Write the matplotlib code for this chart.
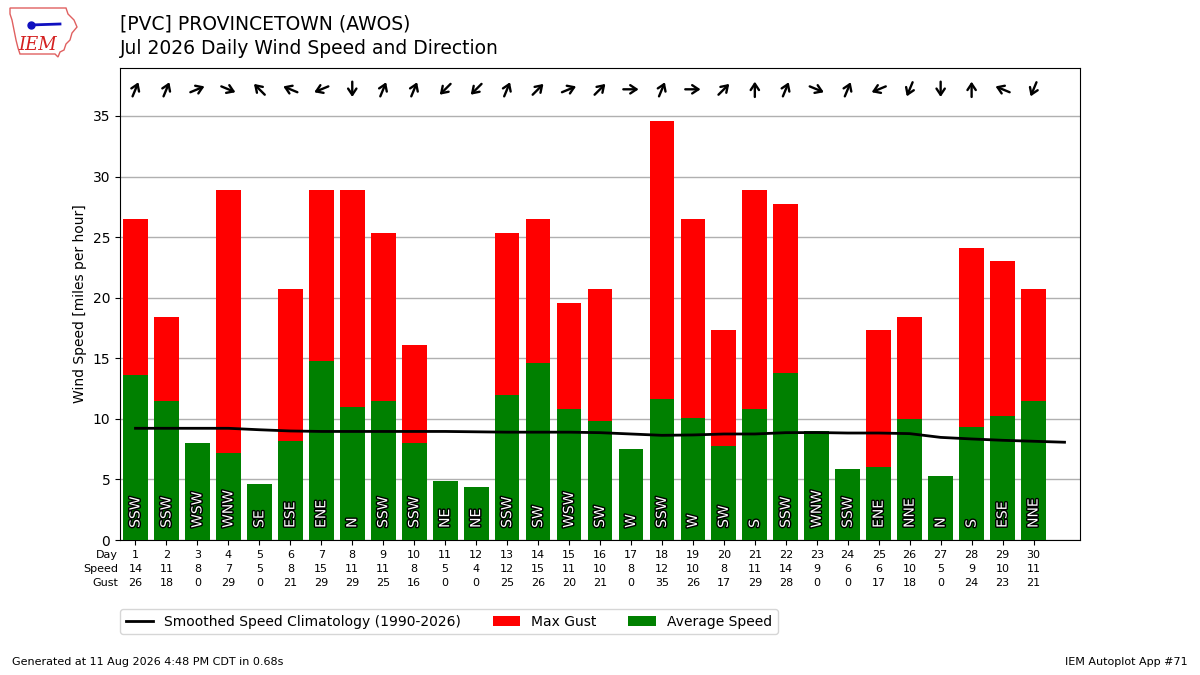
import numpy as np
import matplotlib
matplotlib.use("Agg")
import matplotlib.pyplot as plt
import matplotlib.patheffects as pe
from matplotlib.patches import Polygon
from matplotlib.transforms import offset_copy, blended_transform_factory

# daily values
days = list(range(1, 31))
avg_speed = [13.6, 11.5, 8.0, 7.2, 4.6, 8.2, 14.8, 11.0, 11.5, 8.0,
             4.9, 4.4, 12.0, 14.6, 10.8, 9.8, 7.5, 11.6, 10.1, 7.8,
             10.8, 13.8, 9.0, 5.9, 6.0, 10.0, 5.3, 9.3, 10.2, 11.5]
max_gust = [26.5, 18.4, 0, 28.9, 0, 20.7, 28.9, 28.9, 25.3, 16.1,
            0, 0, 25.3, 26.5, 19.6, 20.7, 0, 34.6, 26.5, 17.3,
            28.9, 27.7, 0, 0, 17.3, 18.4, 0, 24.1, 23.0, 20.7]
speed_lbl = [14, 11, 8, 7, 5, 8, 15, 11, 11, 8, 5, 4, 12, 15, 11,
             10, 8, 12, 10, 8, 11, 14, 9, 6, 6, 10, 5, 9, 10, 11]
gust_lbl = [26, 18, 0, 29, 0, 21, 29, 29, 25, 16, 0, 0, 25, 26, 20,
            21, 0, 35, 26, 17, 29, 28, 0, 0, 17, 18, 0, 24, 23, 21]
directions = ["SSW", "SSW", "WSW", "WNW", "SE", "ESE", "ENE", "N", "SSW", "SSW",
              "NE", "NE", "SSW", "SW", "WSW", "SW", "W", "SSW", "W", "SW",
              "S", "SSW", "WNW", "SSW", "ENE", "NNE", "N", "S", "ESE", "NNE"]

clim_days = list(range(1, 32))
clim_speed = [9.22, 9.22, 9.22, 9.22, 9.1, 9.0, 8.96, 8.96, 8.96, 8.96,
              8.96, 8.93, 8.9, 8.9, 8.9, 8.86, 8.75, 8.64, 8.67, 8.75,
              8.75, 8.86, 8.87, 8.83, 8.83, 8.78, 8.47, 8.34, 8.23, 8.15, 8.07]

compass = ["N", "NNE", "NE", "ENE", "E", "ESE", "SE", "SSE",
           "S", "SSW", "SW", "WSW", "W", "WNW", "NW", "NNW"]

fig = plt.figure(figsize=(12, 6.75), dpi=100)
ax = fig.add_axes([0.1, 0.2, 0.8, 0.7])

ax.bar(days, max_gust, width=0.8, color="r", label="Max Gust", zorder=2)
ax.bar(days, avg_speed, width=0.8, color="g", label="Average Speed", zorder=3)
ax.plot(clim_days, clim_speed, color="k", lw=2, zorder=4,
        label="Smoothed Speed Climatology (1990-2026)")

# direction names inside the bars
for d, name in zip(days, directions):
    ax.text(d, 1.0, name, rotation=90, ha="center", va="bottom", color="white",
            fontsize=10, zorder=5,
            path_effects=[pe.withStroke(linewidth=2, foreground="k")])

# arrows showing where the wind blows to
arrow_y = 37.2
for d, name in zip(days, directions):
    bearing = np.deg2rad(compass.index(name) * 22.5 + 180)
    dx, dy = np.sin(bearing) * 5.5, np.cos(bearing) * 5.5
    head = offset_copy(ax.transData, fig=fig, x=dx, y=dy, units="points")
    tail = offset_copy(ax.transData, fig=fig, x=-dx, y=-dy, units="points")
    ax.annotate("", xy=(d, arrow_y), xycoords=head,
                xytext=(d, arrow_y), textcoords=tail,
                arrowprops=dict(arrowstyle="->,head_length=0.45,head_width=0.3",
                                color="k", lw=1.7, shrinkA=0, shrinkB=0,
                                mutation_scale=10))

ax.set_xlim(0.5, 31.5)
ax.set_ylim(0, 39)
ax.set_yticks(range(0, 36, 5))
ax.set_xticks(days)
ax.set_xticklabels([])
ax.grid(axis="y", color="#b0b0b0", lw=1, zorder=0)
ax.set_axisbelow(True)
ax.set_ylabel("Wind Speed [miles per hour]")

# table under the axis
trans = blended_transform_factory(ax.transData, ax.transAxes)
rows = [("Day", days), ("Speed", speed_lbl), ("Gust", gust_lbl)]
for i, (lbl, vals) in enumerate(rows):
    yy = -0.032 - i * 0.0297
    ax.text(0.44, yy, lbl, transform=trans, ha="right", va="center", fontsize=8)
    for d, v in zip(days, vals):
        ax.text(d, yy, str(v), transform=trans, ha="center", va="center", fontsize=8)

ax.legend(loc="upper left", bbox_to_anchor=(0, -0.146), borderaxespad=0,
          ncol=3, fontsize=10, columnspacing=2.25)

fig.text(0.1, 0.978, "[PVC] PROVINCETOWN (AWOS)\nJul 2026 Daily Wind Speed and Direction",
         ha="left", va="top", fontsize=13.5, linespacing=1.35)

# rough IEM logo: state outline, instrument, and letters
outline_px = [(10, 8), (66, 8), (68, 14), (74, 20), (77, 27), (72, 33), (70, 40),
              (66, 44), (64, 50), (60, 52), (58, 57), (55, 54), (20, 54), (18, 48),
              (16, 40), (14, 30), (12, 20), (10, 14)]
outline = [(x / 1200, 1 - y / 675) for x, y in outline_px]
fig.patches.append(Polygon(outline, closed=True, fill=False, edgecolor="#e06060",
                           lw=1, transform=fig.transFigure))
fig.lines.append(plt.Line2D([30 / 1200, 60 / 1200], [1 - 25 / 675, 1 - 24 / 675],
                            color="#1010c0", lw=2, transform=fig.transFigure))
fig.lines.append(plt.Line2D([31 / 1200], [1 - 25 / 675], marker="o", ms=5,
                            color="#1010c0", transform=fig.transFigure))
fig.text(0.031, 0.933, "IEM", color="#d42020", fontsize=13, style="italic",
         family="DejaVu Serif", ha="center", va="center")
fig.text(0.01, 0.015, "Generated at 11 Aug 2026 4:48 PM CDT in 0.68s", fontsize=8)
fig.text(0.99, 0.015, "IEM Autoplot App #71", fontsize=8, ha="right")

fig.savefig("out.png", dpi=100)
